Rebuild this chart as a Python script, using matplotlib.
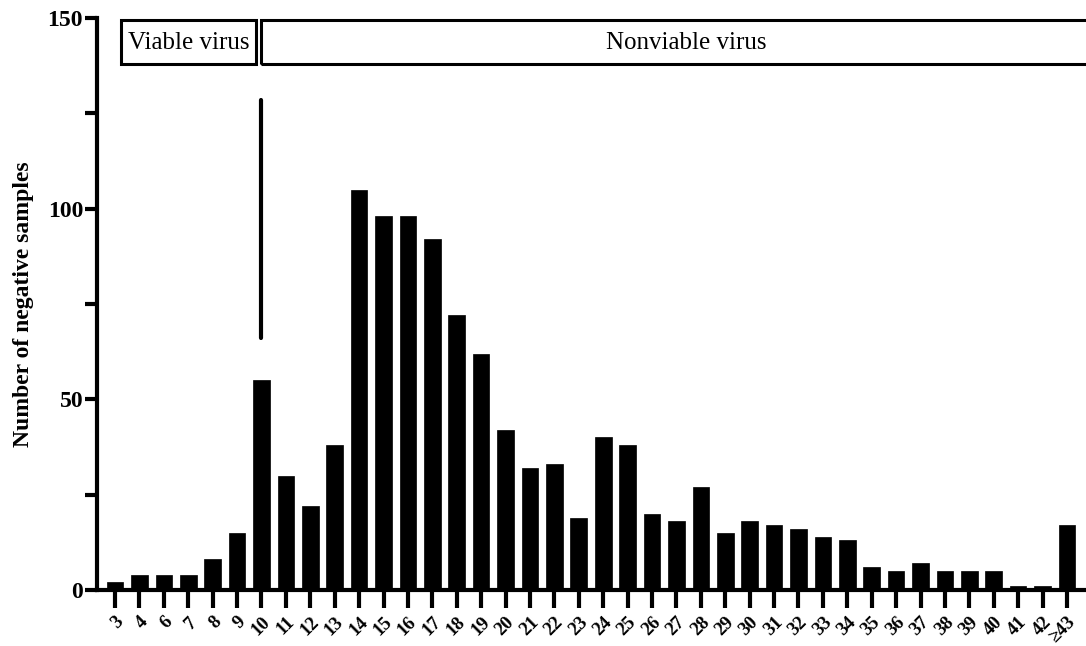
import numpy as np
import matplotlib
matplotlib.use('Agg')
import matplotlib.pyplot as plt
import matplotlib.patches as patches

plt.rcParams['font.family'] = ['Liberation Serif', 'DejaVu Serif']

# ct value categories and counts
ct_labels = ['3', '4', '6', '7', '8', '9', '10', '11', '12', '13', '14', '15', '16',
             '17', '18', '19', '20', '21', '22', '23', '24', '25', '26', '27', '28',
             '29', '30', '31', '32', '33', '34', '35', '36', '37', '38', '39', '40',
             '41', '42', '\u226543']
counts = [2, 4, 4, 4, 8, 15, 55, 30, 22, 38, 105, 98, 98,
          92, 72, 62, 42, 32, 33, 19, 40, 38, 20, 18, 27,
          15, 18, 17, 16, 14, 13, 6, 5, 7, 5, 5, 5,
          1, 1, 17]
cutoff_label = '10'

fig = plt.figure(figsize=(10.86, 6.46), dpi=100)
ax = fig.add_axes([0.0893, 0.0867, 0.9107, 0.8854])

x = np.arange(len(counts))
ax.bar(x, counts, width=0.68, color='black', edgecolor='black', linewidth=0.5)

ax.set_xlim(-0.74, len(counts) - 1 + 0.78)
ax.set_ylim(0, 150)
ax.set_yticks([0, 50, 100, 150])
ax.set_yticks([25, 75, 125], minor=True)
ax.set_xticks(x)
ax.set_xticklabels(ct_labels, rotation=45, ha='right', rotation_mode='anchor',
                   fontsize=13.5, fontweight='bold')
for lab in ax.get_yticklabels():
    lab.set_fontsize(17)
    lab.set_fontweight('bold')

ax.spines['top'].set_visible(False)
ax.spines['right'].set_visible(False)
for s in ['left', 'bottom']:
    ax.spines[s].set_linewidth(3)
ax.tick_params(axis='y', which='both', width=3, length=9, pad=1)
ax.tick_params(axis='x', width=3, length=13, pad=4)

ax.set_ylabel('Number of negative samples', fontsize=17, fontweight='bold', labelpad=10)

# cutoff line at ct 10
cx = ct_labels.index(cutoff_label)
ax.plot([cx, cx], [66, 128.5], color='black', lw=3, solid_capstyle='round')

# annotation boxes
viable = patches.Rectangle((0.25, 138), 5.53, 11.6, fill=False, lw=2.2,
                           edgecolor='black', clip_on=False)
ax.add_patch(viable)
ax.text(0.25 + 5.53 / 2, 143.4, 'Viable virus', ha='center', va='center', fontsize=18)
nonviable = patches.Rectangle((5.98, 138), 40, 11.6, fill=False, lw=2.2,
                              edgecolor='black', clip_on=False)
ax.add_patch(nonviable)
ax.text(23.4, 143.4, 'Nonviable virus', ha='center', va='center', fontsize=18)

fig.savefig('out.png', dpi=100)
